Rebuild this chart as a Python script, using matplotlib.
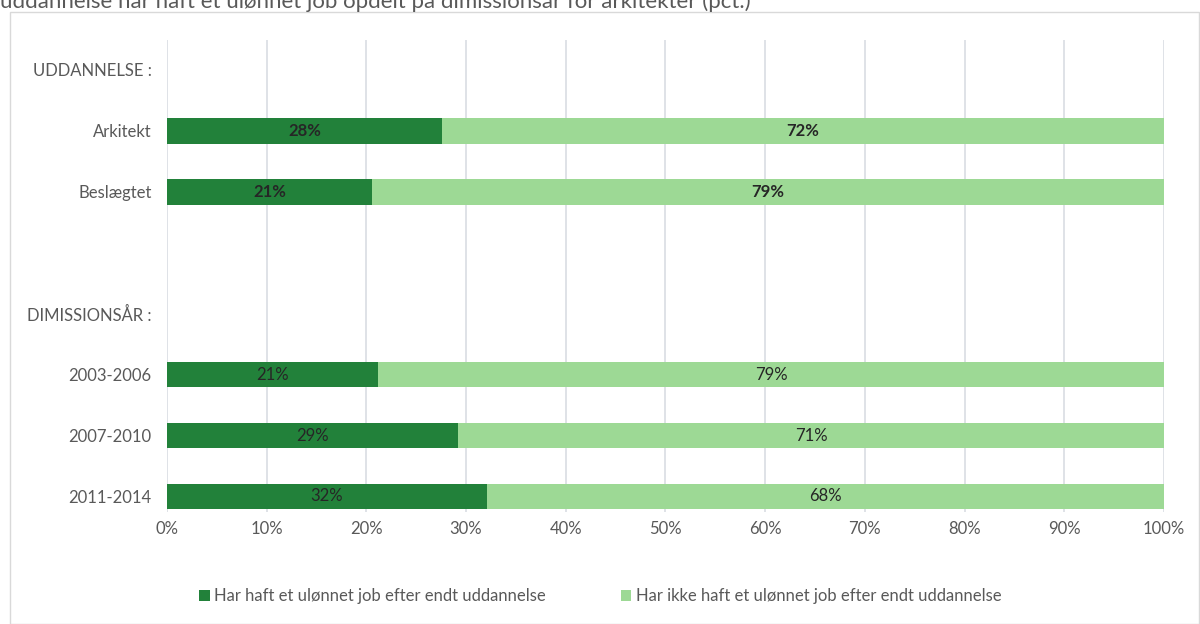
import numpy as np
import matplotlib
matplotlib.use("Agg")
from matplotlib import pyplot as plt
from matplotlib.patches import Rectangle

plt.rcParams['font.family'] = ['Lato', 'DejaVu Sans']

# categories, top to bottom (headers carry no bar)
categories = ['UDDANNELSE :', 'Arkitekt', 'Beslægtet', '', 'DIMISSIONSÅR :',
              '2003-2006', '2007-2010', '2011-2014']
har_haft = [0, 27.6, 20.6, 0, 0, 21.2, 29.2, 32.1]
ikke_haft = [0, 72.4, 79.4, 0, 0, 78.8, 70.8, 67.9]
labels_har = ['', '28%', '21%', '', '', '21%', '29%', '32%']
labels_ikke = ['', '72%', '79%', '', '', '79%', '71%', '68%']
bold_rows = [1, 2]

series_names = ['Har haft et ulønnet job efter endt uddannelse',
                'Har ikke haft et ulønnet job efter endt uddannelse']
title = 'uddannelse har haft et ulønnet job opdelt på dimissionsår for arkitekter (pct.)'

dark = '#22813a'
light = '#9dd995'
text_col = '#262626'
tick_col = '#595959'

fig = plt.figure(figsize=(12, 6.24), dpi=100)
ax = fig.add_axes([0.139, 0.179, 0.831, 0.757])

y = np.arange(len(categories))
ax.barh(y, har_haft, height=0.42, color=dark, label=series_names[0], zorder=3)
ax.barh(y, ikke_haft, left=har_haft, height=0.42, color=light, label=series_names[1], zorder=3)

for i in range(len(categories)):
    w = 'bold' if i in bold_rows else 'normal'
    if labels_har[i]:
        ax.text(har_haft[i] / 2, y[i], labels_har[i], ha='center', va='center',
                fontsize=12, color=text_col, fontweight=w, zorder=4)
    if labels_ikke[i]:
        ax.text(har_haft[i] + ikke_haft[i] / 2, y[i], labels_ikke[i], ha='center', va='center',
                fontsize=12, color=text_col, fontweight=w, zorder=4)

ax.set_xlim(0, 100)
ax.set_ylim(len(categories) - 1 + 0.26, -0.49)
ax.set_xticks(np.arange(0, 101, 10))
ax.set_xticklabels([f'{v}%' for v in range(0, 101, 10)])
ax.set_yticks(y)
ax.set_yticklabels(categories)
ax.tick_params(axis='both', length=0, labelsize=12, labelcolor=tick_col)
ax.tick_params(axis='y', pad=11)
ax.tick_params(axis='x', pad=6)
ax.grid(axis='x', color='#d9dde3', linewidth=1.2, zorder=0)
for s in ax.spines.values():
    s.set_visible(False)

leg = fig.legend(loc='center', bbox_to_anchor=(0.5, 0.045), ncol=2, frameon=False,
                 fontsize=12, handlelength=0.65, handleheight=0.65, handletextpad=0.25,
                 columnspacing=4.5)
for t in leg.get_texts():
    t.set_color(tick_col)

# chart border and clipped title
fig.patches.append(Rectangle((10 / 1200, 0), 1189 / 1200, 612 / 624, transform=fig.transFigure,
                             fill=False, edgecolor='#d9d9d9', linewidth=1))
fig.text(0.0, 1 - 8 / 624, title, ha='left', va='baseline', fontsize=16, color=tick_col)

fig.savefig('out.png', dpi=100)
